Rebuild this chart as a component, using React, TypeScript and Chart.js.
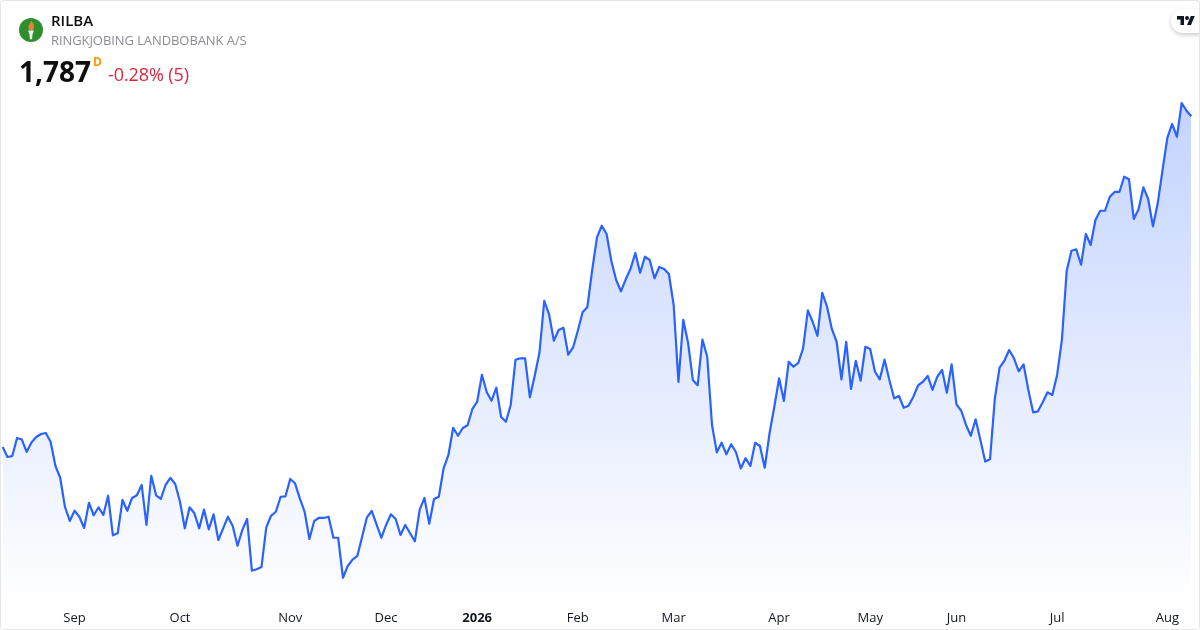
import React, { useEffect, useRef } from "react";
import { Chart, registerables } from "chart.js";

Chart.register(...registerables);

const symbol = "RILBA";
const companyName = "RINGKJOBING LANDBOBANK A/S";
const lastPrice = "1,787";
const intervalMark = "D";
const changeText = "-0.28% (5)";

const tickLabels = ["Sep", "Oct", "Nov", "Dec", "2026", "Feb", "Mar", "Apr", "May", "Jun", "Jul", "Aug"];
const tickIndices = [15, 37, 60, 80, 99, 120, 140, 162, 181, 199, 220, 243];

const prices = [
  1489.4, 1480.4, 1481.3, 1497.5, 1496.1, 1484.9, 1493.4, 1498.4, 1501.1, 1502.0,
  1494.1, 1472.5, 1461.7, 1435.4, 1422.8, 1432.0, 1426.6, 1416.5, 1439.2, 1427.9,
  1435.1, 1428.2, 1445.5, 1409.9, 1411.7, 1441.7, 1432.0, 1443.5, 1445.9, 1455.2,
  1419.2, 1463.5, 1445.9, 1442.6, 1455.4, 1461.5, 1456.1, 1440.1, 1416.2, 1435.1,
  1429.7, 1416.2, 1433.0, 1415.3, 1428.8, 1405.7, 1416.2, 1426.6, 1418.3, 1400.5,
  1414.7, 1424.6, 1378.0, 1379.3, 1381.4, 1417.1, 1427.5, 1431.1, 1444.6, 1445.0,
  1460.6, 1456.7, 1443.2, 1431.1, 1406.6, 1422.8, 1425.7, 1425.5, 1426.6, 1407.7,
  1407.7, 1371.7, 1382.3, 1388.0, 1391.3, 1408.6, 1426.1, 1431.8, 1419.8, 1407.7,
  1419.2, 1428.8, 1424.6, 1410.2, 1419.2, 1411.7, 1404.5, 1432.7, 1443.5, 1420.3,
  1442.6, 1444.6, 1470.2, 1482.2, 1506.7, 1499.5, 1506.5, 1508.9, 1523.6, 1530.1,
  1554.4, 1538.6, 1531.0, 1542.7, 1516.4, 1512.1, 1527.2, 1567.9, 1569.2, 1569.2,
  1534.1, 1553.3, 1574.4, 1621.0, 1608.8, 1585.0, 1594.7, 1596.7, 1572.4, 1578.7,
  1594.0, 1610.6, 1615.4, 1648.7, 1678.1, 1688.5, 1681.1, 1656.8, 1639.7, 1629.5,
  1640.3, 1649.8, 1664.0, 1646.2, 1660.6, 1657.7, 1641.2, 1651.4, 1649.6, 1645.1,
  1617.2, 1547.9, 1603.9, 1583.2, 1549.7, 1544.9, 1586.0, 1570.6, 1509.2, 1484.6,
  1493.2, 1482.8, 1491.8, 1484.6, 1470.0, 1479.3, 1472.3, 1493.2, 1490.3, 1470.7,
  1501.7, 1525.6, 1551.2, 1530.8, 1566.1, 1561.6, 1565.0, 1578.2, 1612.4, 1602.1,
  1589.3, 1628.2, 1615.6, 1595.6, 1584.1, 1550.3, 1583.9, 1541.6, 1567.0, 1549.0,
  1579.6, 1577.6, 1557.1, 1550.3, 1568.0, 1549.7, 1533.2, 1535.3, 1524.7, 1526.5,
  1534.6, 1544.9, 1548.1, 1553.3, 1540.7, 1552.6, 1558.7, 1538.2, 1563.8, 1527.8,
  1522.0, 1509.2, 1499.5, 1514.3, 1495.7, 1476.3, 1478.3, 1532.6, 1560.9, 1567.0,
  1576.7, 1569.2, 1557.5, 1563.8, 1540.7, 1520.6, 1521.5, 1529.6, 1538.6, 1536.2,
  1554.2, 1585.7, 1648.0, 1666.0, 1667.3, 1653.4, 1681.1, 1671.2, 1693.7, 1702.0,
  1702.0, 1714.6, 1718.9, 1718.9, 1732.6, 1730.3, 1694.6, 1703.3, 1723.1, 1712.6,
  1688.0, 1708.7, 1738.7, 1767.5, 1780.1, 1768.6, 1799.0, 1792.0, 1787.0,
];

const categories = prices.map((_, i) => {
  const at = tickIndices.indexOf(i);
  return at >= 0 ? tickLabels[at] : "";
});

const FONT = '"Open Sans", sans-serif';

export default function App() {
  const ref = useRef<HTMLCanvasElement>(null);

  useEffect(() => {
    document.body.style.margin = "0";
    document.body.style.background = "#fff";
    const chart = new Chart(ref.current!, {
      type: "line",
      data: {
        labels: categories,
        datasets: [
          {
            data: prices,
            borderColor: "#2962FF",
            borderWidth: 2.2,
            pointRadius: 0,
            tension: 0,
            borderJoinStyle: "round",
            fill: "start",
            backgroundColor: (ctx: any) => {
              const g = ctx.chart.ctx.createLinearGradient(0, 100, 0, 606);
              g.addColorStop(0, "rgba(41,98,255,0.28)");
              g.addColorStop(1, "rgba(41,98,255,0)");
              return g;
            },
          },
        ],
      },
      options: {
        animation: false,
        responsive: false,
        devicePixelRatio: 1,
        layout: { padding: { left: 2.67, right: 8.7, top: 0, bottom: 0 } },
        plugins: { legend: { display: false }, tooltip: { enabled: false } },
        scales: {
          x: {
            type: "category",
            offset: false,
            grid: { display: false, drawTicks: false },
            border: { display: false },
            afterFit: (s: any) => {
              s.height = 26;
              s.paddingLeft = 0;
              s.paddingRight = 0;
            },
            ticks: {
              autoSkip: false,
              maxRotation: 0,
              minRotation: 0,
              padding: 6,
              color: "#131722",
              font: (c: any) => ({
                family: FONT,
                size: 13,
                weight: c.tick && c.tick.label === "2026" ? "bold" : "normal",
              }),
            },
          },
          y: {
            display: false,
            min: 1348.07,
            max: 1891.67,
          },
        },
      },
    });
    return () => chart.destroy();
  }, []);

  return (
    <div style={{ position: "relative", width: 1200, height: 630, overflow: "hidden", fontFamily: FONT }}>
      <canvas ref={ref} width={1200} height={630} style={{ position: "absolute", left: 0, top: 0, width: 1200, height: 630 }} />
      <svg width="24" height="24" viewBox="0 0 24 24" style={{ position: "absolute", left: 19, top: 18 }}>
        <circle cx="12" cy="12" r="12" fill="#2f8f2f" />
        <path d="M12.3 3c2.4 2.6 3.2 4.8 2.5 6.9-.4 1.4-1.4 2.3-2.6 2.3s-2.3-.9-2.7-2.3c-.6-2.2.9-4.2 2.8-6.9z" fill="#e8813a" />
        <path d="M9 12.6h6l-1.5 3.6-.4 5h-2.2l-.4-5z" fill="#f2f6ee" />
      </svg>
      <div style={{ position: "absolute", left: 51, top: 11, fontSize: 15, fontWeight: 600, lineHeight: "18px", color: "#0f0f0f" }}>{symbol}</div>
      <div style={{ position: "absolute", left: 51, top: 31, fontSize: 13, lineHeight: "18px", color: "#8a8c94", letterSpacing: -0.08 }}>{companyName}</div>
      <div style={{ position: "absolute", left: 19, top: 52, fontSize: 28, fontWeight: 700, lineHeight: "38px", color: "#0f0f0f" }}>{lastPrice}</div>
      <div style={{ position: "absolute", left: 93, top: 55, fontSize: 12, fontWeight: 700, lineHeight: "14px", color: "#ff9800" }}>{intervalMark}</div>
      <div style={{ position: "absolute", left: 108, top: 62, fontSize: 18, lineHeight: "24px", color: "#d9263f", letterSpacing: -0.1 }}>{changeText}</div>
      <div
        style={{
          position: "absolute",
          left: 1171,
          top: 9,
          width: 40,
          height: 24,
          background: "#fff",
          borderRadius: 12,
          boxShadow: "0 2px 4px rgba(0,0,0,0.2)",
        }}
      />
      <svg width="18" height="14" viewBox="0 0 36 28" style={{ position: "absolute", left: 1177, top: 14 }}>
        <path d="M14 22H7V11H0V4h14v18zM28 22h-8l7.5-18h8L28 22z" fill="#131722" />
        <circle cx="20" cy="8" r="4" fill="#131722" />
      </svg>
      <div
        style={{
          position: "absolute",
          left: 0,
          top: 0,
          width: 1198,
          height: 628,
          border: "1px solid #e6e6e8",
          borderRadius: 3,
          pointerEvents: "none",
        }}
      />
    </div>
  );
}
